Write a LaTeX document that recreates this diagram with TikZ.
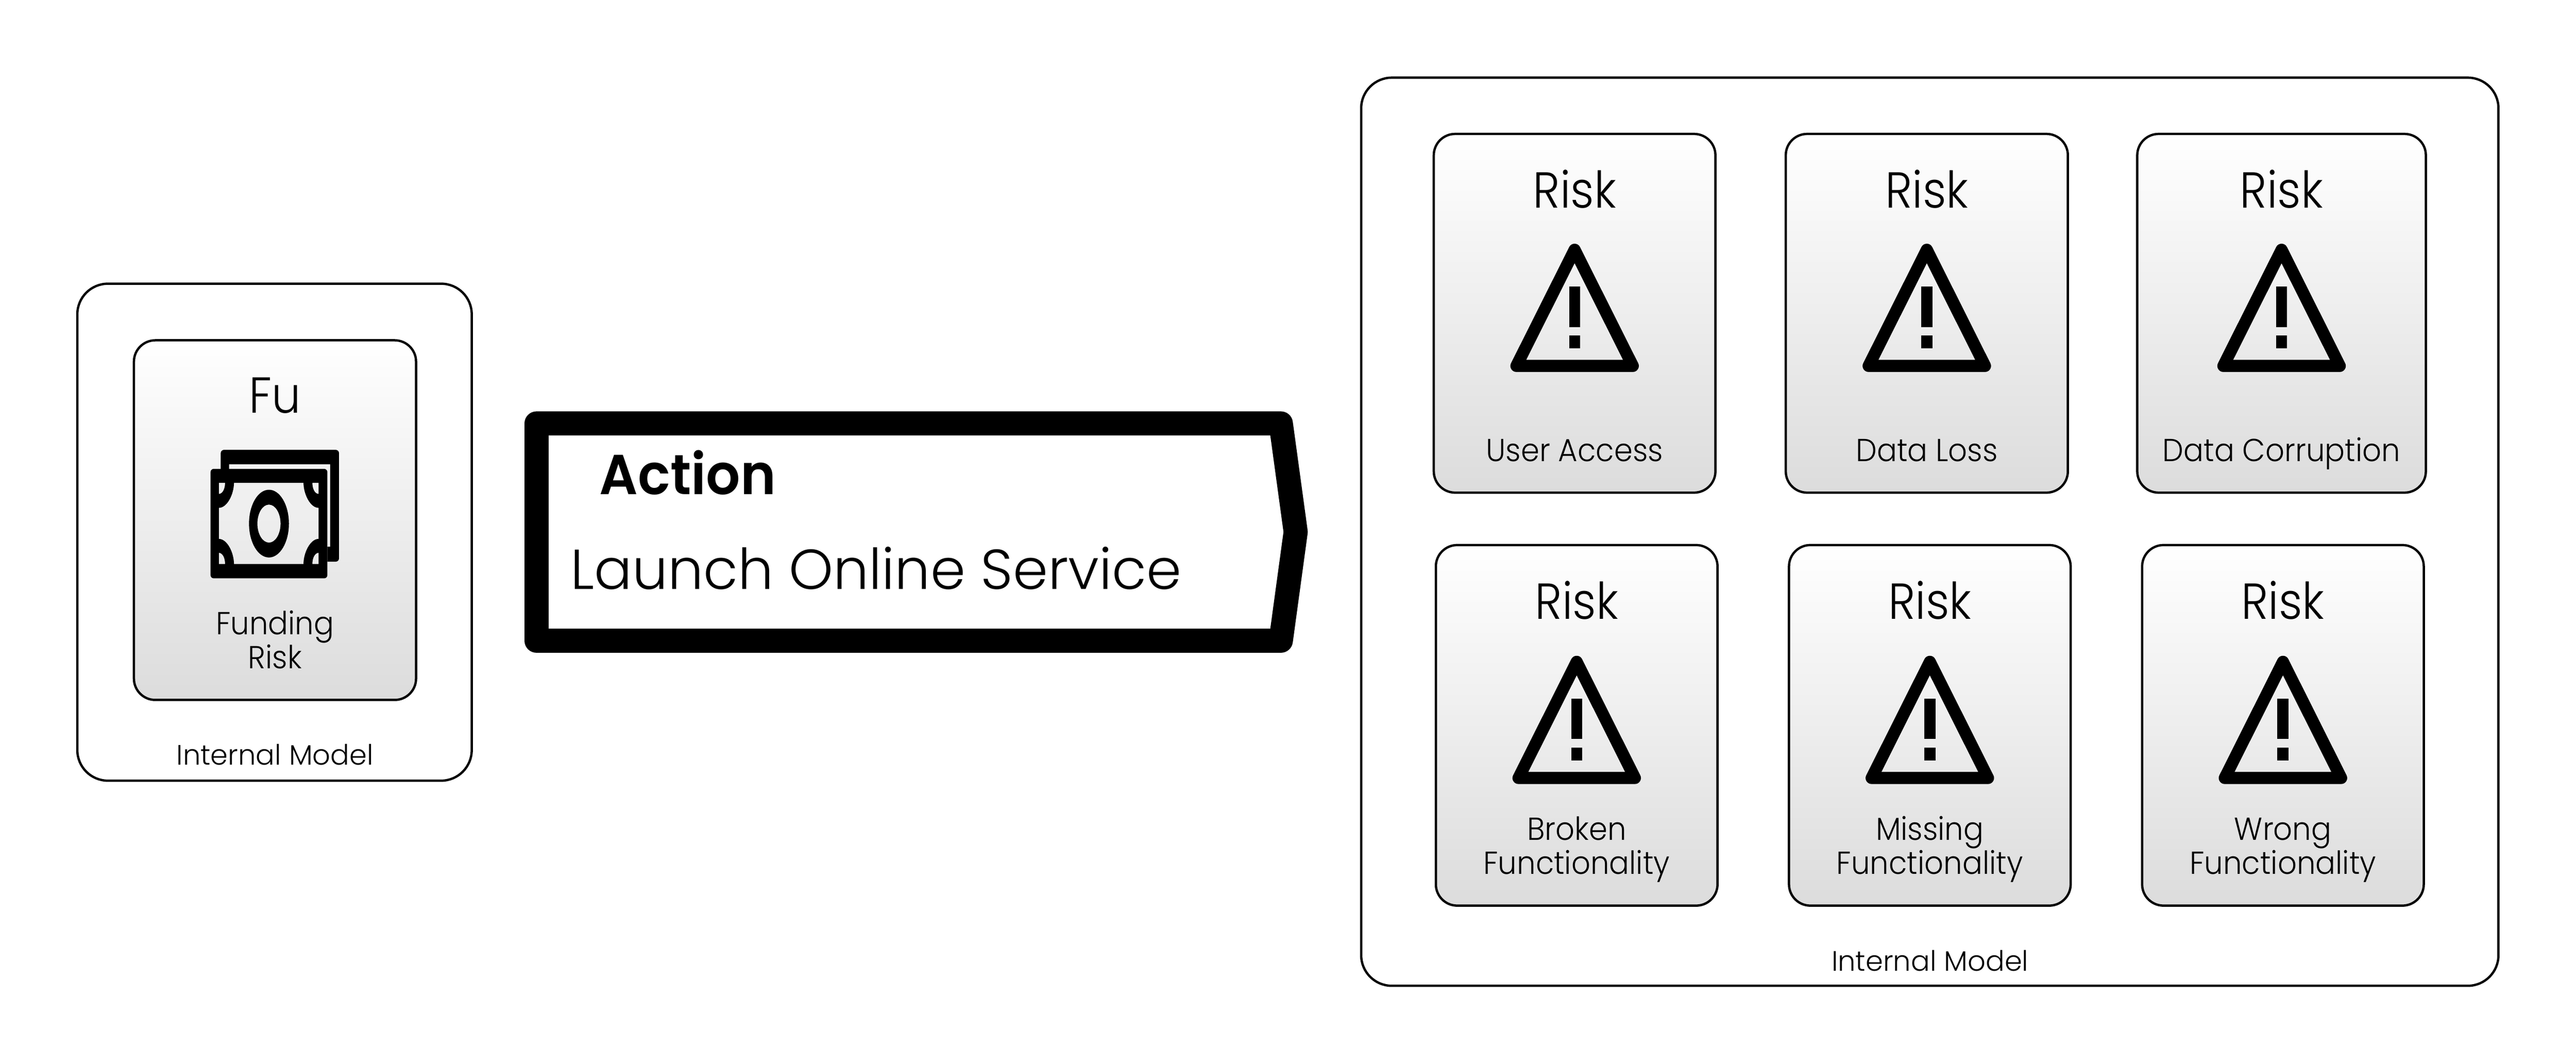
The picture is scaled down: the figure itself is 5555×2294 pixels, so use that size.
\documentclass[tikz,border=0pt]{standalone}
\usepackage{xcolor}
\usepackage{fontspec}
\setmainfont{Poppins Light}[BoldFont=Poppins SemiBold,BoldFeatures={FakeStretch=.955}]
\newfontfamily\titlefont{Poppins Light}[FakeStretch=.91]
\newfontfamily\labelfont{Poppins Light}[FakeStretch=.935]
\definecolor{cardtop}{RGB}{255,255,255}
\definecolor{cardbottom}{RGB}{220,220,220}
\tikzstyle{modelbox}=[draw,line width=.05cm,rounded corners=.66cm,fill=white]
\tikzstyle{card}=[draw,line width=.05cm,rounded corners=.46cm,top color=cardtop,bottom color=cardbottom]
\tikzstyle{cardtitle}=[anchor=base,inner sep=0pt,font=\titlefont\fontsize{31}{33}\selectfont]
\tikzstyle{cardlabel}=[anchor=base,inner sep=0pt,align=center,font=\labelfont\fontsize{19.5}{21}\selectfont]
\tikzstyle{modellabel}=[anchor=base,inner sep=0pt,font=\fontsize{17.2}{19}\selectfont]
\tikzstyle{actiontext}=[anchor=base west,inner sep=0pt,font=\fontsize{34.5}{37}\selectfont]
\newcommand{\warnsign}[1]{%
  \draw[line width=.26cm,line join=round] ([shift={(0,-137)}]#1.center) -- ([shift={(-125.5,113.5)}]#1.center)
    -- ([shift={(125.5,113.5)}]#1.center) -- cycle;
  \fill ([shift={(-12,-57.5)}]#1.center) rectangle ([shift={(12,29.5)}]#1.center);
  \fill ([shift={(-12,47.5)}]#1.center) rectangle ([shift={(12,75.5)}]#1.center);
}
\begin{document}
\begin{tikzpicture}[x=.01cm,y=-.01cm]
  \useasboundingbox (0,0) rectangle (5555,2294);

  %% Left model
  \draw (592,1147.5) node[modelbox,minimum width=8.5cm,minimum height=10.71cm] (leftmodel) {};
  \draw (593,1121.5) node[card,minimum width=6.08cm,minimum height=7.75cm] (fund) {};
  \draw (593,891) node[cardtitle] (fundtitle) {Fu};
  \draw (593,1442) node[cardlabel] (fundtext) {Funding\\Risk};
  \draw (593,1649) node[modellabel] (leftlabel) {Internal Model};

  %% Money icon
  \fill (476,1011) [rounded corners=.07cm] -- (476,970) -- (731,970) -- (731,1211) [sharp corners] -- (706,1211) -- (706,1179)
    -- (712,1179) -- (712,1001) -- (494,1001) -- (494,1011) -- cycle;
  \fill[even odd rule] [rounded corners=.07cm] (454,1011) -- (706,1011) -- (706,1247) -- (454,1247) -- cycle [sharp corners]
    (504.5,1041) -- (654.5,1041) .. controls (654.5,1065) and (669,1095) .. (687,1095)
    -- (687,1162) .. controls (669,1162) and (654.5,1192) .. (654.5,1216)
    -- (504.5,1216) .. controls (504.5,1192) and (490,1162) .. (472,1162)
    -- (472,1095) .. controls (490,1095) and (504.5,1065) .. (504.5,1041) -- cycle
    (472,1041) -- (485.4,1041) .. controls (485.4,1054) and (480,1065) .. (472,1065) -- cycle
    (687,1041) -- (673.6,1041) .. controls (673.6,1054) and (679,1065) .. (687,1065) -- cycle
    (472,1216) -- (485.4,1216) .. controls (485.4,1203) and (480,1192) .. (472,1192) -- cycle
    (687,1216) -- (673.6,1216) .. controls (673.6,1203) and (679,1192) .. (687,1192) -- cycle
    (580,1129) ellipse [x radius=43,y radius=73]
    (580,1129) ellipse [x radius=25,y radius=41];

  %% Action
  \draw[line width=.52cm,line join=round] (1157,913) -- (2762,913) -- (2794,1147) -- (2762,1381.5) -- (1157,1381.5) -- cycle;
  \draw (1292,1065.5) node[actiontext] (actionhead) {\textbf{Action}};
  \draw (1230,1270) node[actiontext] (actionname) {Launch Online Service};

  %% Right model
  \draw (4161.5,1146.5) node[modelbox,minimum width=24.51cm,minimum height=19.57cm] (rightmodel) {};
  \draw (4162,2093.5) node[modellabel] (rightlabel) {Internal Model};

  %% Top row
  \draw (3395.5,675.5) node[card,minimum width=6.07cm,minimum height=7.73cm] (access) {};
  \draw (3395.5,448) node[cardtitle] (accesstitle) {Risk};
  \warnsign{access}
  \draw (3395.5,995) node[cardlabel] (accesstext) {User Access};

  \draw (4155,675.5) node[card,minimum width=6.08cm,minimum height=7.73cm] (loss) {};
  \draw (4155,448) node[cardtitle] (losstitle) {Risk};
  \warnsign{loss}
  \draw (4155,995) node[cardlabel] (losstext) {Data Loss};

  \draw (4920,675.5) node[card,minimum width=6.22cm,minimum height=7.73cm] (corrupt) {};
  \draw (4920,448) node[cardtitle] (corrupttitle) {Risk};
  \warnsign{corrupt}
  \draw (4920,995) node[cardlabel] (corrupttext) {Data Corruption};

  %% Bottom row
  \draw (3400,1564) node[card,minimum width=6.07cm,minimum height=7.77cm] (broken) {};
  \draw (3400,1335) node[cardtitle] (brokentitle) {Risk};
  \warnsign{broken}
  \draw (3400,1885) node[cardlabel] (brokentext) {Broken\\Functionality};

  \draw (4161.5,1564) node[card,minimum width=6.07cm,minimum height=7.77cm] (missing) {};
  \draw (4161.5,1335) node[cardtitle] (missingtitle) {Risk};
  \warnsign{missing}
  \draw (4161.5,1885) node[cardlabel] (missingtext) {Missing\\Functionality};

  \draw (4923,1564) node[card,minimum width=6.07cm,minimum height=7.77cm] (wrong) {};
  \draw (4923,1335) node[cardtitle] (wrongtitle) {Risk};
  \warnsign{wrong}
  \draw (4923,1885) node[cardlabel] (wrongtext) {Wrong\\Functionality};
\end{tikzpicture}
\end{document}
